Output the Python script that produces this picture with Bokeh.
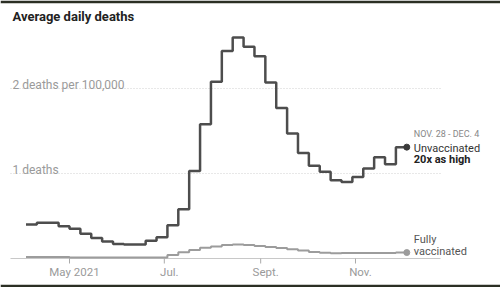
import pandas as pd
from bokeh.plotting import figure
from bokeh.models import Range1d
from bokeh.core.properties import value
from bokeh.embed import file_html
from bokeh.resources import INLINE

# ---- data ----
first_week = "2021-04-03"
unvaccinated = [0.40, 0.42, 0.42, 0.38, 0.35, 0.29, 0.24, 0.20, 0.17, 0.165,
                0.165, 0.21, 0.25, 0.39, 0.58, 1.03, 1.58, 2.08, 2.44, 2.60,
                2.49, 2.38, 2.07, 1.77, 1.47, 1.24, 1.09, 1.02, 0.92, 0.90,
                0.96, 1.06, 1.19, 1.11, 1.31]
vaccinated = [0.018, 0.018, 0.018, 0.018, 0.012, 0.012, 0.012, 0.012, 0.012, 0.012,
              0.012, 0.012, 0.012, 0.04, 0.074, 0.10, 0.126, 0.14, 0.16, 0.165,
              0.16, 0.147, 0.135, 0.124, 0.11, 0.094, 0.076, 0.067, 0.062, 0.065,
              0.065, 0.065, 0.065, 0.065, 0.07]
tick_dates = ["2021-05-01", "2021-07-01", "2021-09-01", "2021-11-01"]
tick_labels = ["May 2021", "Jul.", "Sept.", "Nov."]
grid_values = [1, 2]
grid_labels = ["1 deaths", "2 deaths per 100,000"]

weeks = list(pd.date_range(first_week, periods=len(unvaccinated), freq="7D"))
end_date = weeks[-1] + pd.Timedelta(days=7)
xs = weeks + [end_date]

FONT = value("Roboto")
may1 = pd.Timestamp("2021-05-01")
px_per_day = 1.5543
x0 = may1 - pd.Timedelta(days=69 / px_per_day)
x1 = may1 + pd.Timedelta(days=(500 - 69) / px_per_day)
grid_start = may1 - pd.Timedelta(days=59 / px_per_day)
grid_end = may1 + pd.Timedelta(days=(440 - 69) / px_per_day)
label_x = may1 - pd.Timedelta(days=57 / px_per_day)

p = figure(width=500, height=287, output_backend="svg", toolbar_location=None,
           x_axis_type="datetime",
           x_range=Range1d(x0, x1), y_range=Range1d(-26 / 85, 255 / 85),
           min_border_left=0, min_border_right=0, min_border_top=3, min_border_bottom=3)
p.axis.visible = False
p.grid.visible = False
p.outline_line_color = None
p.border_fill_color = "#2b2f24"
p.background_fill_color = "white"

# gridlines
p.segment(x0=[grid_start] * 2, x1=[grid_end] * 2, y0=grid_values, y1=grid_values,
          line_color="#d0d0d0", line_width=1, line_dash="1 2")
p.segment(x0=[grid_start], x1=[grid_end], y0=[0], y1=[0], line_color="#c8c8c8", line_width=1.2)
p.text(x=[label_x] * 2, y=grid_values, text=grid_labels, text_font=FONT,
       text_font_size="12px", text_color="#9a9a9a", text_align="left",
       text_baseline="alphabetic", y_offset=-4)

# x ticks
td = [pd.Timestamp(d) for d in tick_dates]
p.segment(x0=td, x1=td, y0=[0] * 4, y1=[-5 / 85] * 4, line_color="#aaaaaa", line_width=1)
p.text(x=td, y=[0] * 4, text=tick_labels, text_font=FONT, text_font_size="11.5px",
       text_color="#9a9a9a", text_align="center", text_baseline="middle",
       x_offset=5, y_offset=13)

# series
p.step(xs, vaccinated + [vaccinated[-1]], mode="after", line_color="#9c9c9c", line_width=2)
p.step(xs, unvaccinated + [unvaccinated[-1]], mode="after", line_color="#4d4d4d", line_width=2.5)
p.scatter([end_date], [unvaccinated[-1]], size=6, color="#3a3a3a")
p.scatter([end_date], [vaccinated[-1]], size=6, color="#9c9c9c")

# annotations
p.text(x=[end_date] * 3, y=[unvaccinated[-1]] * 3,
       text=["NOV. 28 - DEC. 4", "Unvaccinated", "20x as high"],
       y_offset=[-13, 1, 12], x_offset=7, text_font=FONT,
       text_font_size=["9px", "11px", "11px"],
       text_font_style=["normal", "normal", "bold"],
       text_color=["#888888", "#333333", "#222222"],
       text_align="left", text_baseline="middle")
p.text(x=[end_date] * 2, y=[vaccinated[-1]] * 2, text=["Fully", "vaccinated"],
       y_offset=[-13, -1], x_offset=7, text_font=FONT, text_font_size="11px",
       text_color="#555555", text_align="left", text_baseline="middle")

# title
p.text(x=[label_x], y=[255 / 85], text=["Average daily deaths"], y_offset=13,
       text_font=FONT, text_font_size="13px", text_font_style="bold",
       text_color="#222222", text_align="left", text_baseline="middle")

open("out.html", "w").write(file_html(p, INLINE))
